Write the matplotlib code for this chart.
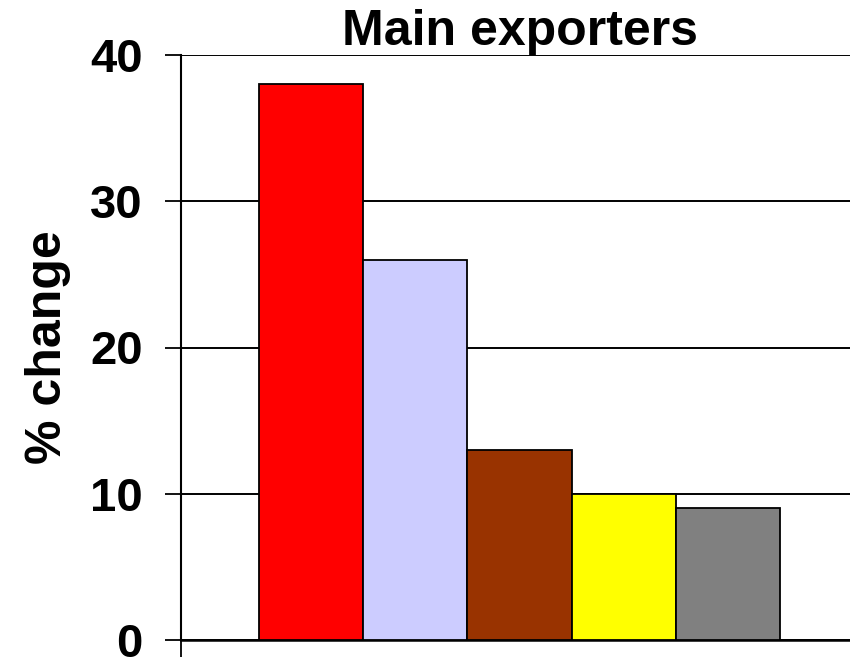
import numpy as np
import matplotlib
matplotlib.use("Agg")
import matplotlib.pyplot as plt

plt.rcParams['font.family'] = ['Liberation Sans', 'DejaVu Sans']
plt.rcParams['font.weight'] = 'bold'

# data
exporters = ["Exporter 1", "Exporter 2", "Exporter 3", "Exporter 4", "Exporter 5"]
pct_change = [38, 26, 13, 10, 9]
bar_colors = ["#FF0000", "#CCCCFF", "#993300", "#FFFF00", "#808080"]
yticks = [0, 10, 20, 30, 40]

fig = plt.figure(figsize=(8.5, 6.59), dpi=100)
# axes run a little past the right edge, like the source chart
ax = fig.add_axes([181/850, 19/659, (858-181)/850, (640-55)/659])

x = np.arange(len(exporters))
ax.bar(x, pct_change, width=1.0, color=bar_colors, edgecolor="black",
       linewidth=1.3, zorder=3)

ax.set_xlim(-1.25, len(exporters) + 0.25)
ax.set_ylim(0, 40)
ax.set_yticks(yticks)
ax.set_yticklabels([str(v) for v in yticks], fontsize=34, fontweight='bold')
ax.set_xticks([-1.25])
ax.set_xticklabels([""])
ax.tick_params(axis='y', direction='out', length=11.5, width=1.3, pad=16)
ax.tick_params(axis='x', direction='out', length=12, width=1.3)

ax.yaxis.grid(True, color="black", linewidth=1.4, zorder=0)
ax.set_axisbelow(True)
for s in ["top", "right"]:
    ax.spines[s].set_visible(False)
ax.spines["left"].set_linewidth(1.5)
ax.spines["bottom"].set_linewidth(1.8)

ax.set_ylabel("% change", fontsize=36, fontweight='bold', labelpad=14)
ax.set_title("Main exporters", fontsize=36, fontweight='bold', pad=2)

fig.savefig("out.png", dpi=100)
